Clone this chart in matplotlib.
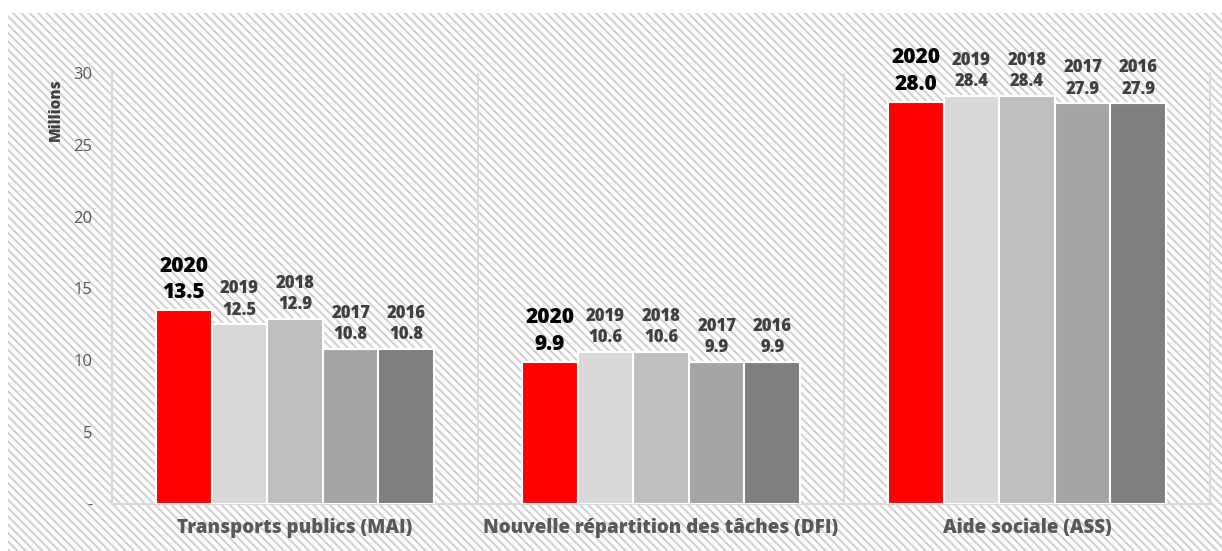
import numpy as np
import matplotlib
matplotlib.use('Agg')
import matplotlib.pyplot as plt
from matplotlib.patches import Rectangle

plt.rcParams['font.family'] = ['Open Sans', 'DejaVu Sans']
plt.rcParams['hatch.linewidth'] = 1.4

# data (millions)
categories = ['Transports publics (MAI)', 'Nouvelle répartition des tâches (DFI)', 'Aide sociale (ASS)']
years = ['2020', '2019', '2018', '2017', '2016']
values = {
    '2020': [13.5, 9.9, 28.0],
    '2019': [12.5, 10.6, 28.4],
    '2018': [12.9, 10.6, 28.4],
    '2017': [10.8, 9.9, 27.9],
    '2016': [10.8, 9.9, 27.9],
}
colors = ['#ff0000', '#d9d9d9', '#bfbfbf', '#a5a5a5', '#7f7f7f']
yticks = [0, 5, 10, 15, 20, 25, 30]
yticklabels = ['-', '5', '10', '15', '20', '25', '30']

fig = plt.figure(figsize=(12.22, 5.51), dpi=100)

# hatched backdrop like the original export
bg = Rectangle((8 / 1222, 0), 1, 1 - 13 / 551, transform=fig.transFigure,
               facecolor='white', edgecolor='#d0d0d0', hatch='\\\\\\\\', linewidth=0,
               zorder=-10)
fig.patches.append(bg)

ax = fig.add_axes([112 / 1222, 47 / 551, 1098 / 1222, 431 / 551])
ax.set_facecolor('none')

x = np.arange(len(categories))
w = 0.152
for i, yr in enumerate(years):
    xs = x + (i - 2) * w
    ax.bar(xs, values[yr], width=w, color=colors[i], edgecolor='white',
           linewidth=1.5, zorder=3)
    for xi, v in zip(xs, values[yr]):
        if yr == '2020':
            ax.annotate(f'{yr}\n{v:.1f}', (xi, v), xytext=(0, 5), textcoords='offset points',
                        ha='center', va='bottom', fontsize=15, fontweight=800,
                        color='black', linespacing=1.35)
        else:
            ax.annotate(f'{yr}\n{v:.1f}', (xi, v), xytext=(0, 4), textcoords='offset points',
                        ha='center', va='bottom', fontsize=12, fontweight=800,
                        color='#404040', linespacing=1.35)

ax.set_xlim(-0.5, 2.5)
ax.set_ylim(0, 30)
ax.set_yticks(yticks)
ax.set_yticklabels(yticklabels)
ax.set_xticks(x)
ax.set_xticklabels(categories, fontsize=13.5, fontweight=800, color='#595959')
ax.tick_params(axis='y', length=0, pad=14, labelsize=12, labelcolor='#595959')
ax.tick_params(axis='x', length=0, pad=10)

for s in ['left', 'right', 'bottom']:
    ax.spines[s].set_color('#d9d9d9')
    ax.spines[s].set_linewidth(1.5)
ax.spines['top'].set_visible(False)
for sep in [0.5, 1.5]:
    ax.axvline(sep, color='#d9d9d9', linewidth=1.3, zorder=1)

fig.text(56 / 1222, 1 - 110 / 551, 'Millions', rotation=90, ha='center', va='center',
         fontsize=11, fontweight=800, color='#404040')

fig.savefig('out.png', dpi=100)
